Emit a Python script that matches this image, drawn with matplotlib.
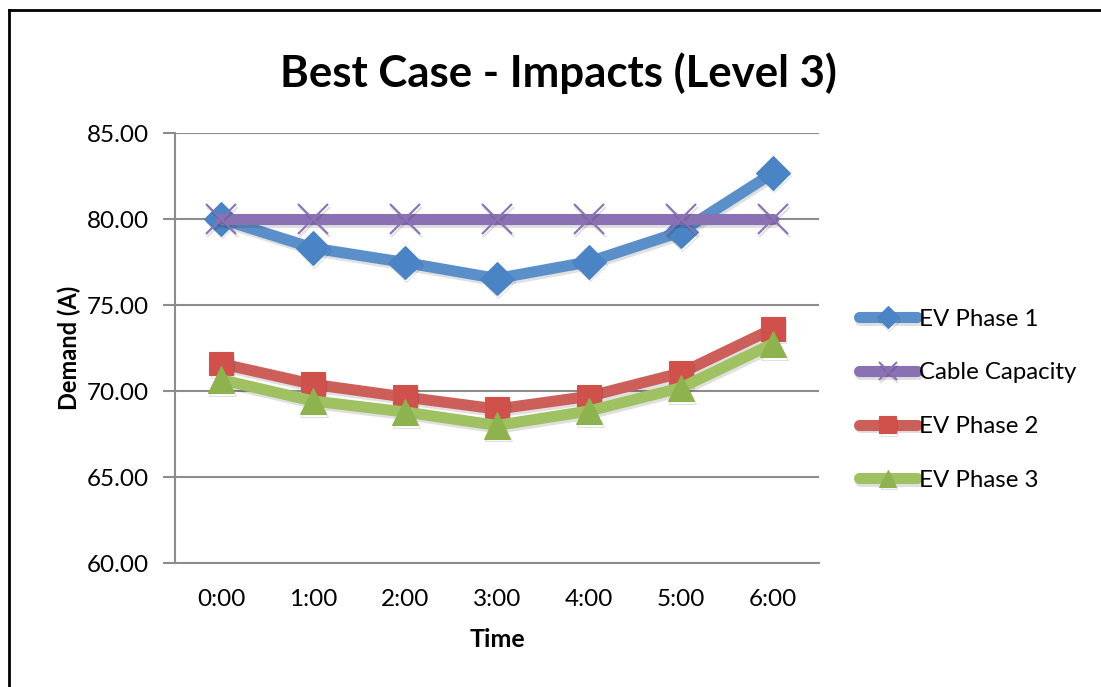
import matplotlib
matplotlib.use("Agg")
import matplotlib.pyplot as plt
import matplotlib.patheffects as pe
from matplotlib.lines import Line2D

plt.rcParams['font.family'] = ['Lato', 'DejaVu Sans']

times = ["0:00", "1:00", "2:00", "3:00", "4:00", "5:00", "6:00"]
ev_phase1 = [80.00, 78.31, 77.47, 76.54, 77.51, 79.26, 82.68]
cable_capacity = [80.00, 80.00, 80.00, 80.00, 80.00, 80.00, 80.00]
ev_phase2 = [71.59, 70.39, 69.65, 68.95, 69.69, 71.05, 73.62]
ev_phase3 = [70.66, 69.42, 68.78, 68.00, 68.84, 70.19, 72.75]
y_ticks = [60, 65, 70, 75, 80, 85]

fig = plt.figure(figsize=(11.01, 6.87), dpi=100)
ax = fig.add_axes([175 / 1101, 1 - 563 / 687, 644 / 1101, 430 / 687])

x = list(range(len(times)))
shadow = [pe.SimpleLineShadow(offset=(1, -2), alpha=0.12, shadow_color='black'), pe.Normal()]

series = [
    ("EV Phase 1", ev_phase1, "#5B8FC9", "D", "#4A84C4", 17, 11),
    ("Cable Capacity", cable_capacity, "#8A71B3", "x", "#8A71B3", 22, 13),
    ("EV Phase 2", ev_phase2, "#CD5F5A", "s", "#D0504B", 17, 12),
    ("EV Phase 3", ev_phase3, "#9FC162", "^", "#8DB24E", 19, 12),
]
legend_sizes = []
for name, vals, lc, mk, mc, ms, lms in series:
    ax.plot(x, vals, color=lc, lw=8, marker=mk, markersize=ms,
            markerfacecolor=mc, markeredgecolor=mc if mk != "x" else lc,
            markeredgewidth=1.5 if mk == "x" else 0.8,
            solid_capstyle='round', label=name, path_effects=shadow, zorder=3)
    legend_sizes.append(lms)

ax.set_xlim(-0.5, 6.5)
ax.set_ylim(60, 85)
ax.set_yticks(y_ticks)
ax.set_yticklabels([f"{v:.2f}" for v in y_ticks])
ax.set_xticks(x)
ax.set_xticklabels(times)
ax.yaxis.grid(True, color="#8C8C8C", lw=1.5)
ax.set_axisbelow(True)
for s in ("top", "right"):
    ax.spines[s].set_visible(False)
for s in ("left", "bottom"):
    ax.spines[s].set_color("#8C8C8C")
    ax.spines[s].set_linewidth(1.5)
ax.tick_params(axis='y', length=9, width=1.5, color="#8C8C8C", labelsize=17.5, pad=10)
ax.tick_params(axis='x', length=0, labelsize=17.5, pad=19)

ax.set_xlabel("Time", fontsize=18, fontweight='bold', labelpad=13)
ax.set_ylabel("Demand (A)", fontsize=17, fontweight='bold', labelpad=4)
fig.text(558 / 1101, 1 - 73 / 687, "Best Case - Impacts (Level 3)",
         ha='center', va='center', fontsize=31.5, fontweight='bold')

leg = ax.legend(loc='center left', bbox_to_anchor=(1.047, 0.38), frameon=False,
                fontsize=17.3, handlelength=2.4, handletextpad=0.1,
                labelspacing=1.36, borderaxespad=0)
for h, lms in zip(leg.legend_handles, legend_sizes):
    h.set_markersize(lms)

# outer chart border
fig.add_artist(Line2D([9 / 1101, 9 / 1101], [0, 1 - 10 / 687], color='black', lw=2))
fig.add_artist(Line2D([9 / 1101, 1], [1 - 10 / 687, 1 - 10 / 687], color='black', lw=2))

fig.savefig("out.png", dpi=100)
